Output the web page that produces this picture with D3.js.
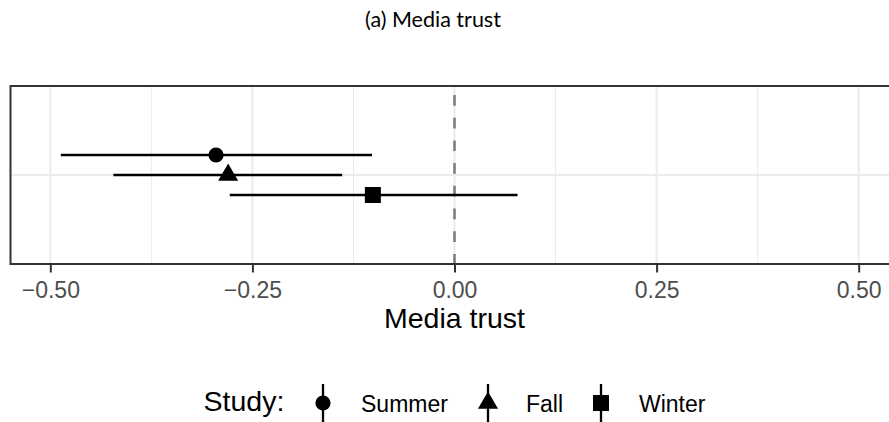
<!DOCTYPE html>
<html>
<head>
<meta charset="utf-8">
<script src="https://cdn.jsdelivr.net/npm/d3@7"></script>
<style>
  html, body { margin: 0; padding: 0; background: #fff; }
  svg { display: block; }
</style>
</head>
<body>
<svg id="chart" width="889" height="422"></svg>
<script>
// Estimates with 95% intervals for each study wave
const studies  = ["Summer", "Fall", "Winter"];
const estimate = [-0.295, -0.280, -0.101];
const lower    = [-0.487, -0.422, -0.278];
const upper    = [-0.102, -0.139, 0.078];
const xTicks   = [-0.50, -0.25, 0.00, 0.25, 0.50];
const xMinor   = [-0.375, -0.125, 0.125, 0.375];
const outcome  = "Media trust";

const W = 889, H = 422;
const svg = d3.select("#chart");

const panel = { top: 86, bottom: 264, left: 10.5 };

const x = d3.scaleLinear().domain([-0.55, 0.55]).range([9.9, 899.1]);
const yBand = d3.scaleBand().domain([outcome]).range([panel.top, panel.bottom]);
const yCenter = yBand(outcome) + yBand.bandwidth() / 2;
const dodge = d3.scalePoint().domain(studies).range([-20, 20]);

const rows = studies.map((s, i) => ({ study: s, est: estimate[i], lo: lower[i], hi: upper[i] }));

// panel background
svg.append("rect")
  .attr("x", panel.left).attr("y", panel.top)
  .attr("width", W + 20 - panel.left).attr("height", panel.bottom - panel.top)
  .attr("fill", "#fff");

// minor gridlines
svg.append("g").selectAll("line").data(xMinor).join("line")
  .attr("x1", d => x(d)).attr("x2", d => x(d))
  .attr("y1", panel.top).attr("y2", panel.bottom)
  .attr("stroke", "#ebebeb").attr("stroke-width", 1);

// major gridlines
svg.append("g").selectAll("line").data(xTicks).join("line")
  .attr("x1", d => x(d)).attr("x2", d => x(d))
  .attr("y1", panel.top).attr("y2", panel.bottom)
  .attr("stroke", "#ebebeb").attr("stroke-width", 2);
svg.append("line")
  .attr("x1", panel.left).attr("x2", W + 10)
  .attr("y1", yCenter).attr("y2", yCenter)
  .attr("stroke", "#ebebeb").attr("stroke-width", 2);

// reference line at zero
svg.append("line")
  .attr("x1", x(0)).attr("x2", x(0))
  .attr("y1", panel.top).attr("y2", panel.bottom)
  .attr("stroke", "#7f7f7f").attr("stroke-width", 2.6)
  .attr("stroke-dasharray", "10.7 12")
  .attr("stroke-dashoffset", 13.7);

// interval lines
const g = svg.append("g");
g.selectAll("line.ci").data(rows).join("line")
  .attr("class", "ci")
  .attr("x1", d => x(d.lo)).attr("x2", d => x(d.hi))
  .attr("y1", d => yCenter + dodge(d.study))
  .attr("y2", d => yCenter + dodge(d.study))
  .attr("stroke", "#000").attr("stroke-width", 2.3);

// point symbols
const shapes = { Summer: d3.symbolCircle, Fall: d3.symbolTriangle, Winter: d3.symbolSquare };
const sizes  = { Summer: Math.PI * 7.6 * 7.6, Fall: 175, Winter: 16 * 16 };
const symbolPath = s => d3.symbol().type(shapes[s]).size(sizes[s])();

g.selectAll("path.pt").data(rows).join("path")
  .attr("class", "pt")
  .attr("transform", d => `translate(${x(d.est)},${yCenter + dodge(d.study)})`)
  .attr("d", d => symbolPath(d.study))
  .attr("fill", "#000");

// panel border
svg.append("rect")
  .attr("x", panel.left).attr("y", panel.top)
  .attr("width", W + 20 - panel.left).attr("height", panel.bottom - panel.top)
  .attr("fill", "none").attr("stroke", "#333").attr("stroke-width", 2);

// x axis
const xAxis = d3.axisBottom(x).tickValues(xTicks).tickFormat(d3.format(".2f"))
  .tickSize(7.5).tickPadding(9);
const ax = svg.append("g").attr("transform", `translate(0,${panel.bottom + 1})`).call(xAxis);
ax.select(".domain").remove();
ax.selectAll(".tick line").attr("stroke", "#333").attr("stroke-width", 2);
ax.selectAll(".tick text")
  .attr("fill", "#4d4d4d")
  .attr("font-family", "'Liberation Sans', Arial, sans-serif")
  .attr("font-size", 23);

// axis title
svg.append("text")
  .attr("x", x(0)).attr("y", 328)
  .attr("text-anchor", "middle")
  .attr("font-family", "'Liberation Sans', Arial, sans-serif")
  .attr("font-size", 28.5)
  .attr("fill", "#000")
  .text(outcome);

// chart title
svg.append("text")
  .attr("x", 433).attr("y", 27)
  .attr("text-anchor", "middle")
  .attr("font-family", "Lato, 'Open Sans', sans-serif")
  .attr("font-size", 21.5)
  .attr("fill", "#000")
  .text("(a) Media trust");

// legend
const legY = 403;
const legend = svg.append("g").attr("font-family", "'Liberation Sans', Arial, sans-serif");
legend.append("text")
  .attr("x", 203.5).attr("y", 411)
  .attr("font-size", 28.5).attr("fill", "#000")
  .text("Study:");
const keyX = { Summer: 323, Fall: 488, Winter: 601 };
const labelX = { Summer: 361, Fall: 526, Winter: 639 };
const keys = legend.selectAll("g.key").data(studies).join("g")
  .attr("class", "key")
  .attr("transform", d => `translate(${keyX[d]},${legY})`);
keys.append("line")
  .attr("x1", 0).attr("x2", 0).attr("y1", -19).attr("y2", 19)
  .attr("stroke", "#000").attr("stroke-width", 2.3);
keys.append("path").attr("d", d => symbolPath(d)).attr("fill", "#000");
legend.selectAll("text.lab").data(studies).join("text")
  .attr("class", "lab")
  .attr("x", d => labelX[d]).attr("y", 412)
  .attr("font-size", 23).attr("fill", "#000")
  .text(d => d);
</script>
</body>
</html>
